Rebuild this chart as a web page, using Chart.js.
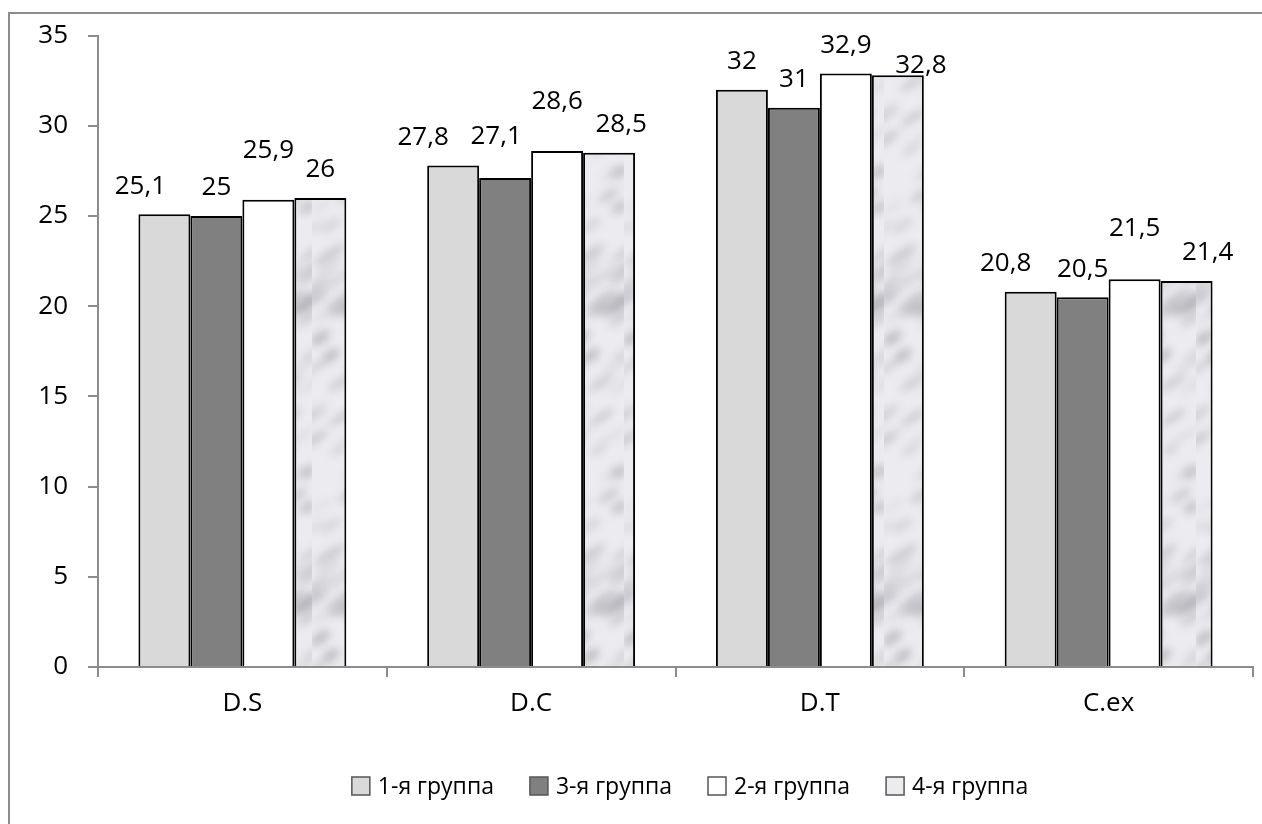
<!DOCTYPE html>
<html>
<head>
<meta charset="utf-8">
<script src="https://cdn.jsdelivr.net/npm/chart.js@4/dist/chart.umd.min.js"></script>
<style>
  body { margin: 0; background: #fff; }
  #wrap { position: relative; width: 1262px; height: 824px; }
  #frame { position: absolute; left: 8px; top: 12px; width: 1270px; height: 830px;
           border-left: 2px solid #8c8c8c; border-top: 2px solid #8c8c8c; pointer-events: none; }
</style>
</head>
<body>
<div id="wrap">
  <canvas id="chart" width="1262" height="824"></canvas>
  <div id="frame"></div>
</div>
<script>
const categorias = ['D.S', 'D.C', 'D.T', 'C.ex'];
const grupos = ['1-я группа', '3-я группа', '2-я группа', '4-я группа'];
const grupo1 = [25.1, 27.8, 32, 20.8];
const grupo3 = [25, 27.1, 31, 20.5];
const grupo2 = [25.9, 28.6, 32.9, 21.5];
const grupo4 = [26, 28.5, 32.8, 21.4];
const ticksY = [0, 5, 10, 15, 20, 25, 30, 35];

const fuente = '"Open Sans", sans-serif';
const tam = 26;
const tamLeyenda = 23;

// textura gris tipo marmol para el 4º grupo
function crearTextura(ancho, alto) {
  const c = document.createElement('canvas');
  c.width = ancho; c.height = alto;
  const g = c.getContext('2d');
  g.fillStyle = '#ececf0';
  g.fillRect(0, 0, ancho, alto);
  g.filter = 'blur(4px)';
  for (let i = 0; i < 40; i++) {
    const x = (Math.sin(i * 12.9898) * 0.5 + 0.5) * ancho;
    const y = (Math.sin(i * 78.233) * 0.5 + 0.5) * alto;
    const tono = 150 + Math.round((Math.sin(i * 3.7) * 0.5 + 0.5) * 60);
    g.fillStyle = `rgba(${tono},${tono},${tono + 6},0.5)`;
    for (const dy of [-alto, 0, alto]) {
      g.beginPath();
      g.ellipse(x, y + dy, 9 + (i % 4) * 3, 3 + (i % 3), -0.6, 0, Math.PI * 2);
      g.fill();
    }
  }
  return g.createPattern(c, 'repeat');
}
const textura = crearTextura(52, 300);

const etiquetas = {
  id: 'etiquetas',
  afterDatasetsDraw(chart, args, opts) {
    const ctx = chart.ctx;
    ctx.save();
    ctx.font = tam + 'px ' + fuente;
    ctx.fillStyle = '#000';
    ctx.textAlign = 'center';
    ctx.textBaseline = 'alphabetic';
    chart.data.datasets.forEach((ds, i) => {
      chart.getDatasetMeta(i).data.forEach((bar, j) => {
        const txt = String(ds.data[j]).replace('.', ',');
        const d = (opts.desplaz[i] || [])[j] || [0, 0];
        ctx.fillText(txt, bar.x + d[0], bar.y - 30 + tam * 0.36 + d[1]);
      });
    });
    ctx.restore();
  }
};

// leyenda dibujada a mano para centrarla como en el original
const leyenda = {
  id: 'leyenda',
  afterDraw(chart, args, opts) {
    const ctx = chart.ctx;
    ctx.save();
    ctx.font = tamLeyenda + 'px ' + fuente;
    const caja = 18, sep = 8, hueco = 36;
    const anchos = chart.data.datasets.map(d => ctx.measureText(d.label).width);
    const total = anchos.reduce((a, w) => a + caja + sep + w, 0) + hueco * (anchos.length - 1);
    let x = opts.centroX - total / 2;
    const y = opts.centroY;
    chart.data.datasets.forEach((d, i) => {
      ctx.fillStyle = d.backgroundColor;
      ctx.fillRect(x, y - caja / 2, caja, caja);
      ctx.strokeStyle = '#555';
      ctx.lineWidth = 1.5;
      ctx.strokeRect(x, y - caja / 2, caja, caja);
      ctx.fillStyle = '#000';
      ctx.textBaseline = 'middle';
      ctx.textAlign = 'left';
      ctx.fillText(d.label, x + caja + sep, y + 1);
      x += caja + sep + anchos[i] + hueco;
    });
    ctx.restore();
  }
};

new Chart(document.getElementById('chart'), {
  type: 'bar',
  data: {
    labels: categorias,
    datasets: [
      { label: grupos[0], data: grupo1, backgroundColor: '#d9d9d9' },
      { label: grupos[1], data: grupo3, backgroundColor: '#808080' },
      { label: grupos[2], data: grupo2, backgroundColor: '#ffffff' },
      { label: grupos[3], data: grupo4, backgroundColor: textura }
    ].map(d => Object.assign(d, {
      borderColor: '#000', borderWidth: { top: 2, left: 2, right: 2, bottom: 0 },
      barPercentage: 1, categoryPercentage: 0.72
    }))
  },
  options: {
    responsive: false,
    animation: false,
    layout: { padding: { left: 0, right: 9, top: 35, bottom: 95 } },
    plugins: {
      tooltip: { enabled: false },
      legend: { display: false },
      leyenda: { centroX: 690, centroY: 786 },
      etiquetas: {
        // corrimientos de las etiquetas como en Excel (evita solapes)
        desplaz: [
          [[-24, 0], [-30, 0], [0, 0], [-25, 0]],
          [[0, 0], [-9, -13], [0, 0], [0, 0]],
          [[0, -21], [0, -21], [0, 0], [0, -23]],
          [[0, 0], [12, 0], [23, 18], [21, 0]]
        ]
      }
    },
    scales: {
      x: {
        offset: true,
        grid: { offset: true, drawOnChartArea: false, tickLength: 10, color: '#8c8c8c', lineWidth: 2 },
        border: { color: '#8c8c8c', width: 2 },
        ticks: { font: { size: tam, family: fuente }, color: '#000', padding: 11 },
        afterFit(s) { s.height = 62; }
      },
      y: {
        min: 0, max: 35,
        afterBuildTicks(s) { s.ticks = ticksY.map(v => ({ value: v })); },
        grid: { drawOnChartArea: false, tickLength: 10, color: '#8c8c8c', lineWidth: 2 },
        border: { color: '#8c8c8c', width: 2 },
        ticks: { font: { size: tam, family: fuente }, color: '#000', padding: 20 },
        afterFit(s) { s.width = 98; }
      }
    }
  },
  plugins: [etiquetas, leyenda]
});
</script>
</body>
</html>
